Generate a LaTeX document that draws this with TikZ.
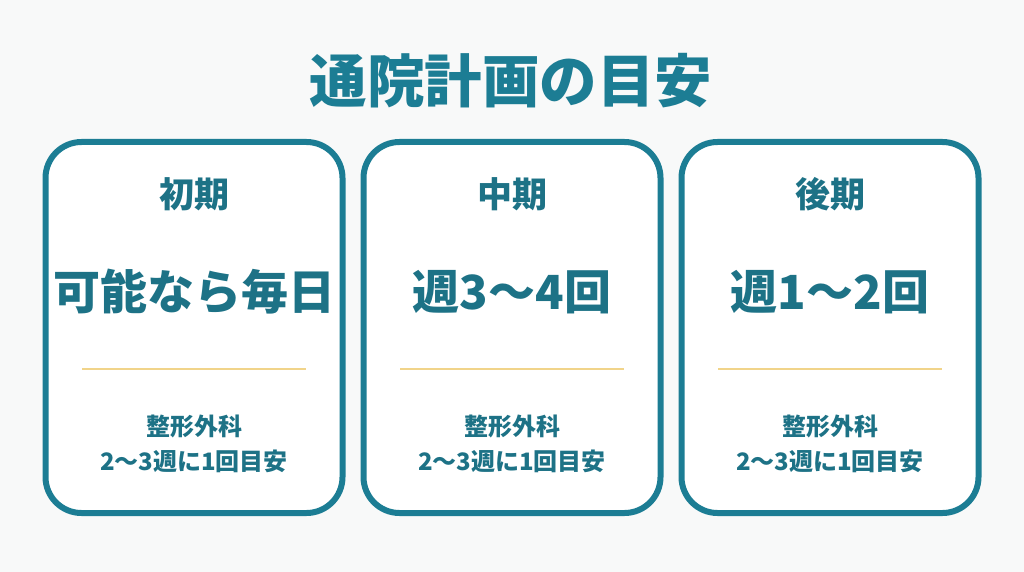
\documentclass[tikz,border=0pt]{standalone}
\usepackage{fontspec}
\setmainfont{Noto Sans CJK JP}
\usetikzlibrary{positioning}
\definecolor{bgcol}{HTML}{F8F9F9}
\definecolor{tealline}{HTML}{1C7D94}
\definecolor{tealtext}{HTML}{1D7286}
\definecolor{goldline}{HTML}{F1D48A}

\begin{document}
\begin{tikzpicture}[x=1pt,y=-1pt,
  card/.style={draw=tealline,fill=white,line width=6pt,rounded corners=36pt,minimum width=297pt,minimum height=371pt},
  head/.style={text=tealtext,font=\bfseries\fontsize{35}{40}\selectfont},
  freq/.style={text=tealtext,font=\bfseries\fontsize{47}{50}\selectfont},
  note/.style={text=tealtext,font=\bfseries\fontsize{24}{35}\selectfont,align=center}]
\fill[bgcol] (0,0) rectangle (1024,572);
\node[text=tealline,font=\bfseries\fontsize{57.5}{60}\selectfont] (title) at (511,81) {通院計画の目安};
\foreach \n/\cx/\hd/\fq in {a/194/初期/可能なら毎日,b/512/中期/週3〜4回,c/830/後期/週1〜2回}{
  \node[card] (card\n) at (\cx,327.5) {};
  \node[head] (head\n) at (\cx,194) {\hd};
  \node[freq] (freq\n) at (\cx,292) {\fq};
  \draw[goldline,line width=2pt] (\cx-112,369) -- (\cx+112,369);
  \node[note] (note\n) at (\cx,444) {整形外科\\2〜3週に1回目安};
}
\end{tikzpicture}
\end{document}
